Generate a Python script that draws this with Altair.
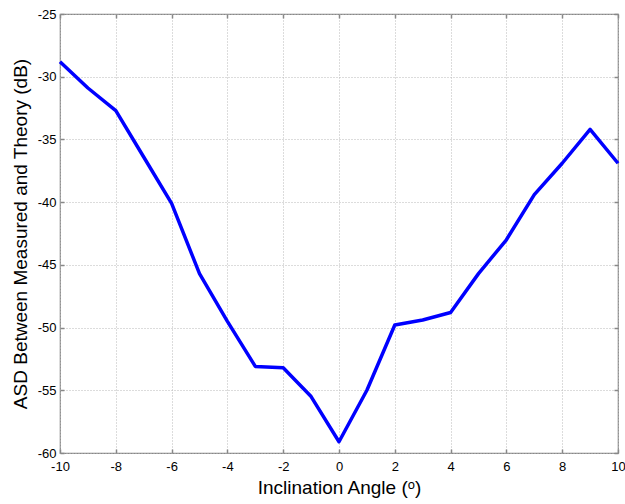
import altair as alt
import pandas as pd

angles = [-10, -9, -8, -7, -6, -5, -4, -3, -2, -1, 0, 1, 2, 3, 4, 5, 6, 7, 8, 9, 10]
asd_db = [-28.8, -30.9, -32.7, -36.4, -40.1, -45.7, -49.5, -53.1, -53.2, -55.5, -59.1,
          -55.0, -49.8, -49.4, -48.8, -45.7, -43.0, -39.4, -36.9, -34.2, -36.9]
x_ticks = [-10, -8, -6, -4, -2, 0, 2, 4, 6, 8, 10]
y_ticks = [-60, -55, -50, -45, -40, -35, -30, -25]

df = pd.DataFrame({"angle": angles, "asd": asd_db})

FONT = "Liberation Sans"
LABEL_EXPR = "replace(datum.label, '\u2212', '-')"
FRAME = "#888888"

x_scale = alt.Scale(domain=[-10, 10], nice=False, zero=False)
y_scale = alt.Scale(domain=[-60, -25], nice=False, zero=False)

main = alt.Chart(df).mark_line(color="#0000FF", strokeWidth=3.5, strokeJoin="round").encode(
    x=alt.X("angle:Q", scale=x_scale,
            axis=alt.Axis(values=x_ticks, title="Inclination Angle (ᵒ)",
                          titleFontSize=19, titleFontWeight="normal", titleColor="#000000",
                          titlePadding=5, labelFontSize=13, labelColor="#000000",
                          labelPadding=7, ticks=False, domain=False,
                          gridDash=[1, 2], gridColor="#b8b8b8", gridWidth=1,
                          labelFlush=False, labelExpr=LABEL_EXPR)),
    y=alt.Y("asd:Q", scale=y_scale,
            axis=alt.Axis(values=y_ticks, title="ASD Between Measured and Theory (dB)",
                          titleFontSize=19, titleFontWeight="normal", titleColor="#000000",
                          titlePadding=7, labelFontSize=13, labelColor="#000000",
                          labelPadding=4, ticks=False, domain=False,
                          gridDash=[1, 2], gridColor="#b8b8b8", gridWidth=1,
                          labelFlush=False, labelExpr=LABEL_EXPR)),
)


def tick_axis(values, orient):
    return alt.Axis(values=values, orient=orient, title=None, labels=False, grid=False,
                    domain=False, ticks=True, tickSize=4, tickColor=FRAME, tickWidth=1.5,
                    offset=-4)


ticks_tr = alt.Chart(df).mark_line(opacity=0).encode(
    x=alt.X("angle:Q", scale=x_scale, axis=tick_axis(x_ticks, "top")),
    y=alt.Y("asd:Q", scale=y_scale, axis=tick_axis(y_ticks, "right")),
)
ticks_bl = alt.Chart(df).mark_line(opacity=0).encode(
    x=alt.X("angle:Q", scale=x_scale, axis=tick_axis(x_ticks, "bottom")),
    y=alt.Y("asd:Q", scale=y_scale, axis=tick_axis(y_ticks, "left")),
)

chart = alt.layer(main, ticks_tr, ticks_bl).resolve_axis(
    x="independent", y="independent"
).properties(
    width=558, height=439,
    autosize=alt.AutoSizeParams(type="none"),
    padding={"left": 60, "top": 14, "right": 7, "bottom": 51},
    background="#ffffff",
).configure_view(
    stroke=FRAME, strokeWidth=1.2
).configure_axis(
    labelFont=FONT, titleFont=FONT
)

chart.save("out.html", embed_options={"renderer": "svg", "actions": False})
